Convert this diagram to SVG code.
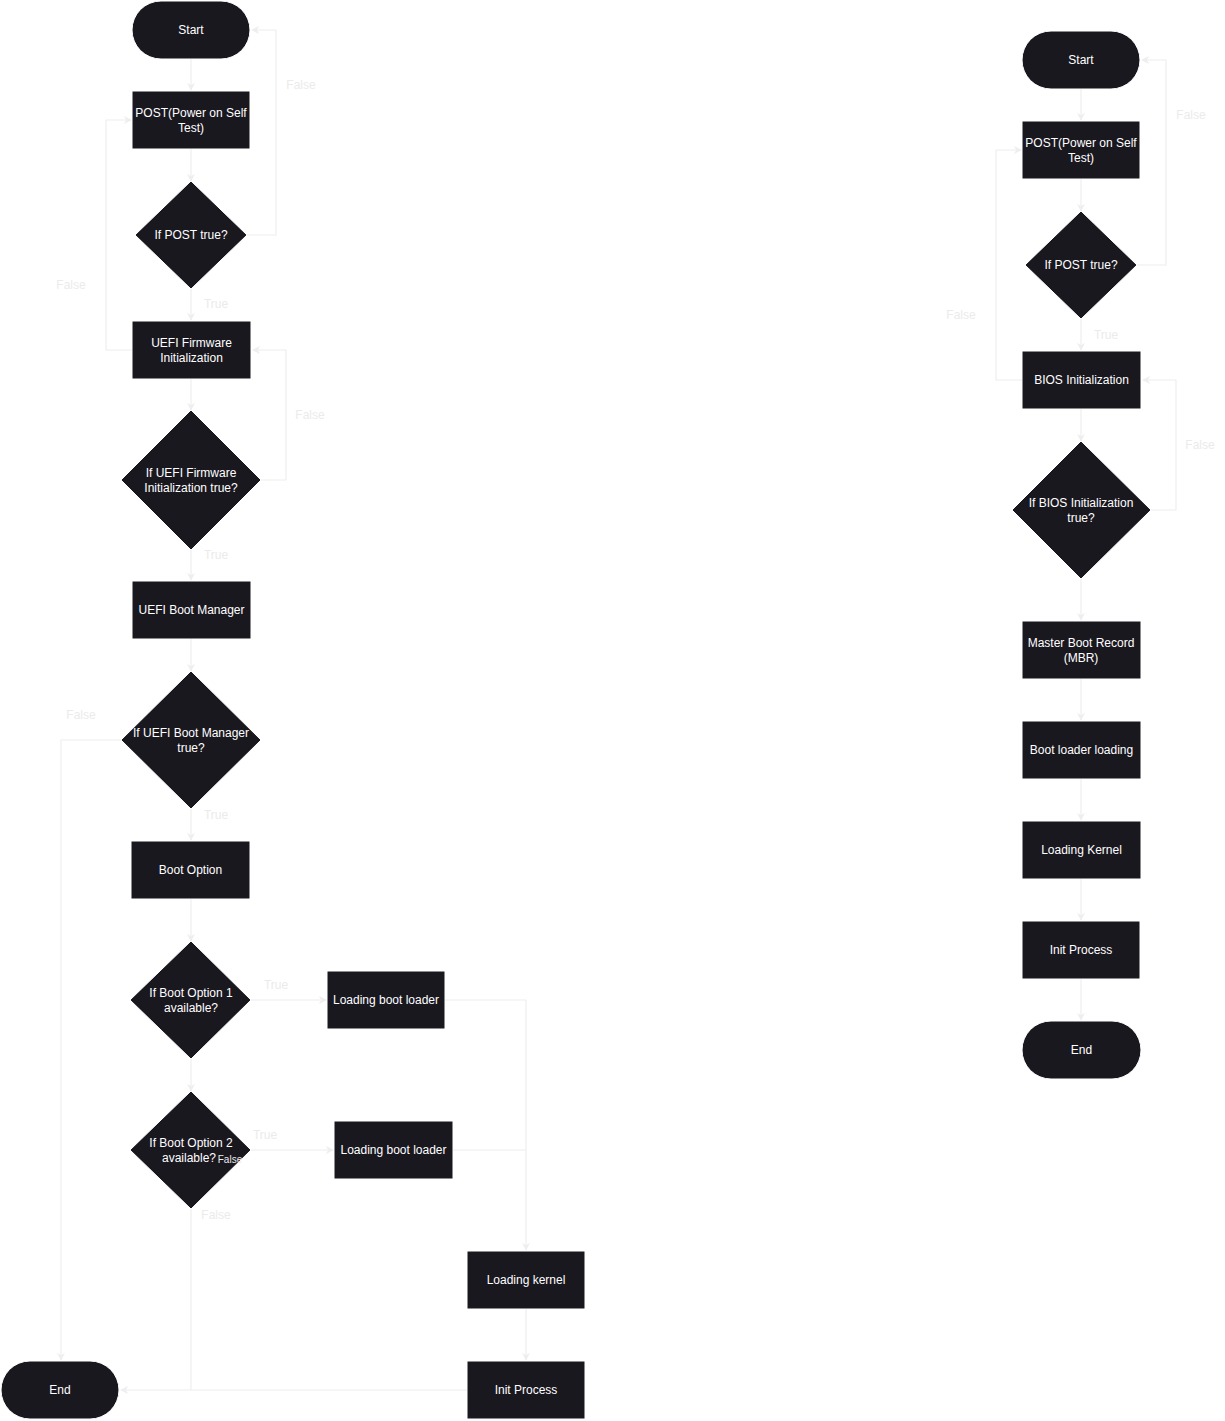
<svg xmlns="http://www.w3.org/2000/svg" width="1225" height="1421" viewBox="0 0 1225 1421">
<defs>
<style>
.n{fill:#1a181f;stroke:#ffffff;stroke-width:1}
.t{fill:#ffffff;font-family:"Liberation Sans",Arial,sans-serif;font-size:12px;font-weight:500;text-anchor:middle;dominant-baseline:central}
.c{fill:none;stroke:#eeeeee;stroke-width:1.2}
.l{fill:#ebebeb;font-family:"Liberation Sans",Arial,sans-serif;font-size:12px;text-anchor:middle;dominant-baseline:central}
</style>
<marker id="a" viewBox="0 0 10 10" refX="9" refY="5" markerWidth="8" markerHeight="8" markerUnits="userSpaceOnUse" orient="auto">
<path d="M0,0 L10,5 L0,10 L3,5 Z" fill="#eeeeee"/>
</marker>
</defs>
<rect width="1225" height="1421" fill="#ffffff"/>
<g id="l-start"><rect class="n" x="132" y="1" width="118" height="58" rx="29"/><text class="t" x="191" y="30">Start</text></g>
<g id="l-post"><rect class="n" x="132" y="91" width="118" height="58"/><text class="t" x="191" y="113">POST(Power on Self</text><text class="t" x="191" y="128">Test)</text></g>
<g id="l-ifpost"><path class="n" d="M191,181 L247,235 L191,289 L135,235 Z"/><text class="t" x="191" y="235">If POST true?</text></g>
<g id="l-uefifw"><rect class="n" x="132" y="321" width="119" height="58"/><text class="t" x="191.5" y="343">UEFI Firmware</text><text class="t" x="191.5" y="358">Initialization</text></g>
<g id="l-ifuefifw"><path class="n" d="M191,410 L261,480 L191,550 L121,480 Z"/><text class="t" x="191" y="473">If UEFI Firmware</text><text class="t" x="191" y="488">Initialization true?</text></g>
<g id="l-ubm"><rect class="n" x="132" y="581" width="119" height="58"/><text class="t" x="191.5" y="610">UEFI Boot Manager</text></g>
<g id="l-ifubm"><path class="n" d="M191,671 L261,740 L191,809 L121,740 Z"/><text class="t" x="191" y="733">If UEFI Boot Manager</text><text class="t" x="191" y="748">true?</text></g>
<g id="l-bootopt"><rect class="n" x="131" y="841" width="119" height="58"/><text class="t" x="190.5" y="870">Boot Option</text></g>
<g id="l-ifbo1"><path class="n" d="M191,941 L251,1000 L191,1059 L130,1000 Z"/><text class="t" x="191" y="993">If Boot Option 1</text><text class="t" x="191" y="1008">available?</text></g>
<g id="l-ifbo2"><path class="n" d="M191,1091 L251,1150 L191,1209 L130,1150 Z"/><text class="t" x="191" y="1143">If Boot Option 2</text><text class="t" x="189" y="1158">available?</text></g>
<g id="l-lbl1"><rect class="n" x="327" y="971" width="118" height="58"/><text class="t" x="386" y="1000">Loading boot loader</text></g>
<g id="l-lbl2"><rect class="n" x="334" y="1121" width="119" height="58"/><text class="t" x="393.5" y="1150">Loading boot loader</text></g>
<g id="l-lk"><rect class="n" x="467" y="1251" width="118" height="58"/><text class="t" x="526" y="1280">Loading kernel</text></g>
<g id="l-init"><rect class="n" x="467" y="1361" width="118" height="58"/><text class="t" x="526" y="1390">Init Process</text></g>
<g id="l-end"><rect class="n" x="1" y="1361" width="118" height="58" rx="29"/><text class="t" x="60" y="1390">End</text></g>
<g id="r-start"><rect class="n" x="1022" y="31" width="118" height="58" rx="29"/><text class="t" x="1081" y="60">Start</text></g>
<g id="r-post"><rect class="n" x="1022" y="121" width="118" height="58"/><text class="t" x="1081" y="143">POST(Power on Self</text><text class="t" x="1081" y="158">Test)</text></g>
<g id="r-ifpost"><path class="n" d="M1081,211 L1137,265 L1081,319 L1025,265 Z"/><text class="t" x="1081" y="265">If POST true?</text></g>
<g id="r-bios"><rect class="n" x="1022" y="351" width="119" height="58"/><text class="t" x="1081.5" y="380">BIOS Initialization</text></g>
<g id="r-ifbios"><path class="n" d="M1081,441 L1151,510 L1081,579 L1012,510 Z"/><text class="t" x="1081" y="503">If BIOS Initialization</text><text class="t" x="1081" y="518">true?</text></g>
<g id="r-mbr"><rect class="n" x="1022" y="621" width="119" height="58"/><text class="t" x="1081" y="643">Master Boot Record</text><text class="t" x="1081" y="658">(MBR)</text></g>
<g id="r-bll"><rect class="n" x="1022" y="721" width="119" height="58"/><text class="t" x="1081.5" y="750">Boot loader loading</text></g>
<g id="r-lk"><rect class="n" x="1022" y="821" width="119" height="58"/><text class="t" x="1081.5" y="850">Loading Kernel</text></g>
<g id="r-init"><rect class="n" x="1022" y="921" width="118" height="58"/><text class="t" x="1081" y="950">Init Process</text></g>
<g id="r-end"><rect class="n" x="1022" y="1021" width="119" height="58" rx="29"/><text class="t" x="1081.5" y="1050">End</text></g>
<g id="connectors">
<path class="c" d="M191,59 V90" marker-end="url(#a)"/>
<path class="c" d="M191,149 V181" marker-end="url(#a)"/>
<path class="c" d="M247,235 H276 V30 H252" marker-end="url(#a)"/>
<path class="c" d="M191,289 V320" marker-end="url(#a)"/>
<path class="c" d="M132,350 H106 V120 H131" marker-end="url(#a)"/>
<path class="c" d="M191,379 V410" marker-end="url(#a)"/>
<path class="c" d="M261,480 H286 V350 H253" marker-end="url(#a)"/>
<path class="c" d="M191,550 V580" marker-end="url(#a)"/>
<path class="c" d="M191,639 V671" marker-end="url(#a)"/>
<path class="c" d="M121,740 H61 V1360" marker-end="url(#a)"/>
<path class="c" d="M191,809 V840" marker-end="url(#a)"/>
<path class="c" d="M191,899 V941" marker-end="url(#a)"/>
<path class="c" d="M251,1000 H326" marker-end="url(#a)"/>
<path class="c" d="M191,1059 V1091" marker-end="url(#a)"/>
<path class="c" d="M251,1150 H333" marker-end="url(#a)"/>
<path class="c" d="M191,1209 V1390"/>
<path class="c" d="M445,1000 H526 V1250" marker-end="url(#a)"/>
<path class="c" d="M453,1150 H526"/>
<path class="c" d="M526,1309 V1360" marker-end="url(#a)"/>
<path class="c" d="M467,1390 H121" marker-end="url(#a)"/>
<path class="c" d="M1081,89 V120" marker-end="url(#a)"/>
<path class="c" d="M1081,179 V211" marker-end="url(#a)"/>
<path class="c" d="M1137,265 H1166 V60 H1142" marker-end="url(#a)"/>
<path class="c" d="M1081,319 V350" marker-end="url(#a)"/>
<path class="c" d="M1022,380 H996 V150 H1021" marker-end="url(#a)"/>
<path class="c" d="M1081,409 V441" marker-end="url(#a)"/>
<path class="c" d="M1151,510 H1176 V380 H1143" marker-end="url(#a)"/>
<path class="c" d="M1081,579 V620" marker-end="url(#a)"/>
<path class="c" d="M1081,679 V720" marker-end="url(#a)"/>
<path class="c" d="M1081,779 V820" marker-end="url(#a)"/>
<path class="c" d="M1081,879 V920" marker-end="url(#a)"/>
<path class="c" d="M1081,979 V1020" marker-end="url(#a)"/>
<text class="l" x="301" y="85">False</text>
<text class="l" x="216" y="304">True</text>
<text class="l" x="71" y="285">False</text>
<text class="l" x="310" y="415">False</text>
<text class="l" x="216" y="555">True</text>
<text class="l" x="81" y="715">False</text>
<text class="l" x="216" y="815">True</text>
<text class="l" x="276" y="985">True</text>
<text class="l" x="265" y="1135">True</text>
<text class="l" x="230" y="1159" style="font-size:10px">False</text>
<text class="l" x="216" y="1215">False</text>
<text class="l" x="1191" y="115">False</text>
<text class="l" x="1106" y="335">True</text>
<text class="l" x="961" y="315">False</text>
<text class="l" x="1200" y="445">False</text>
</g>
</svg>
